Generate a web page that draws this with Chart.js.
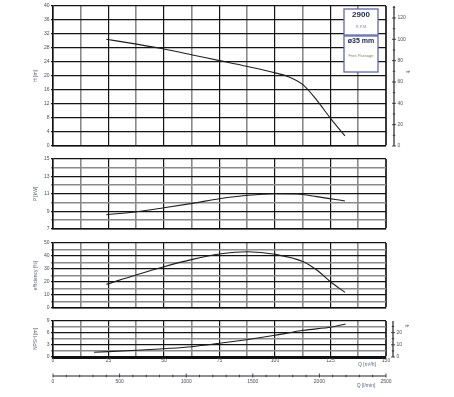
<!DOCTYPE html>
<html>
<head>
<meta charset="utf-8">
<script src="https://cdn.jsdelivr.net/npm/chart.js@4.4.0/dist/chart.umd.min.js"></script>
<style>
    html, body { margin: 0; padding: 0; background: #fff; }
    #wrap { position: relative; width: 454px; height: 397px; }
    canvas { position: absolute; left: 0; top: 0; }
</style>
</head>
<body>
<div id="wrap">
    <canvas id="headChart" width="454" height="397"></canvas>
    <canvas id="powerChart" width="454" height="397"></canvas>
    <canvas id="effChart" width="454" height="397"></canvas>
    <canvas id="npshChart" width="454" height="397"></canvas>
</div>
<script>
// curve data, Q in m3/h
const headQ = [24, 37.7, 50, 62.8, 75, 87.7, 100, 106, 112.8, 118.8, 125, 131.5];
const headH = [30.5, 29.1, 27.7, 26, 24.4, 22.7, 20.9, 19.8, 17.4, 13.1, 7.9, 2.9];
const powerQ = [24, 37.7, 50, 62.8, 75, 87.7, 100, 110, 118.8, 131.5];
const powerP = [8.63, 8.98, 9.43, 9.93, 10.46, 10.85, 11.03, 11.0, 10.7, 10.2];
const effQ = [24, 37.7, 50, 62.8, 75, 87.7, 100, 112.8, 118.8, 125, 131.5];
const effE = [18.2, 25.6, 31.8, 37.4, 41.5, 43.3, 41.3, 35.6, 29.2, 20.2, 12.1];
const npshQ = [18.5, 37.7, 50, 62.5, 75, 87.2, 100, 112.8, 125.5, 131.8];
const npshN = [1.17, 1.67, 2.08, 2.58, 3.42, 4.33, 5.42, 6.67, 7.5, 8.25];

// tick labels
const qTicks = [0, 25, 50, 75, 100, 125, 150];
const lminTicks = [0, 500, 1000, 1500, 2000, 2500];
const hTicks = [0, 4, 8, 12, 16, 20, 24, 28, 32, 36, 40];
const pTicks = [7, 9, 11, 13, 15];
const effTicks = [0, 10, 20, 30, 40, 50];
const npshTicks = [0, 3, 6, 9];
const ftTicksH = [0, 20, 40, 60, 80, 100, 120];
const ftTicksN = [0, 10, 20];

const FONT = 'Liberation Sans';
const tickColor = '#4a4c5c';
const dark = '#141414';
const gray = '#8a8a8a';
const M_TO_FT = 3.28084;

function has(list, v) {
    return list.some(t => Math.abs(t - v) < 1e-6);
}

// feet axis drawn a little to the right of the plot
const ftAxis = {
    id: 'ftAxis',
    afterDraw(chart, args, o) {
        if (!o.ticks) return;
        const { ctx, chartArea } = chart;
        const y = chart.scales.y;
        const x0 = chartArea.right + o.gap;
        const ftMax = y.max * M_TO_FT;
        ctx.save();
        ctx.strokeStyle = '#222';
        ctx.lineWidth = 1.2;
        ctx.beginPath();
        ctx.moveTo(x0, chartArea.top);
        ctx.lineTo(x0, chartArea.bottom);
        ctx.stroke();
        ctx.lineWidth = 0.8;
        for (let ft = 0; ft <= ftMax; ft += o.minor) {
            const py = y.getPixelForValue(ft / M_TO_FT);
            const major = has(o.ticks, ft);
            ctx.beginPath();
            ctx.moveTo(x0 - (major ? 2 : 1.2), py);
            ctx.lineTo(x0 + (major ? 2 : 1.2), py);
            ctx.stroke();
        }
        ctx.fillStyle = tickColor;
        ctx.font = '5px "' + FONT + '"';
        ctx.textAlign = 'left';
        ctx.textBaseline = 'middle';
        o.ticks.forEach(ft => {
            ctx.fillText(String(ft), x0 + 3.5, y.getPixelForValue(ft / M_TO_FT));
        });
        ctx.translate(x0 + 13, o.titleY);
        ctx.rotate(Math.PI / 2);
        ctx.textAlign = 'center';
        ctx.fillStyle = '#5a6080';
        ctx.fillText('ft', 0, 0);
        ctx.restore();
    }
};

// l/min axis under the bottom panel
const lminAxis = {
    id: 'lminAxis',
    afterDraw(chart, args, o) {
        if (!o.ticks) return;
        const { ctx, chartArea } = chart;
        const x = chart.scales.x;
        const y0 = chartArea.bottom + 19;
        ctx.save();
        ctx.strokeStyle = '#222';
        ctx.lineWidth = 1.2;
        ctx.beginPath();
        ctx.moveTo(x.getPixelForValue(0), y0);
        ctx.lineTo(x.getPixelForValue(2500 * 0.06), y0);
        ctx.stroke();
        ctx.lineWidth = 0.8;
        for (let l = 0; l <= 2500; l += 100) {
            const px = x.getPixelForValue(l * 0.06);
            const major = has(o.ticks, l);
            ctx.beginPath();
            ctx.moveTo(px, y0 - (major ? 2.5 : 1.2));
            ctx.lineTo(px, y0 + (major ? 1.5 : 1.2));
            ctx.stroke();
        }
        ctx.fillStyle = tickColor;
        ctx.font = '5px "' + FONT + '"';
        ctx.textAlign = 'center';
        ctx.textBaseline = 'middle';
        o.ticks.forEach(l => ctx.fillText(String(l), x.getPixelForValue(l * 0.06), y0 + 6));
        ctx.fillStyle = '#5a6080';
        ctx.fillText('Q [m\u00b3/h]', 367, chartArea.bottom + 8);
        ctx.fillText('Q [l/min]', 366, y0 + 10);
        ctx.restore();
    }
};

// speed / passage boxes in the head panel
const infoBox = {
    id: 'infoBox',
    afterDraw(chart, args, o) {
        if (!o.show) return;
        const { ctx, chartArea } = chart;
        const left = chartArea.right - 42;
        const w = 34;
        ctx.save();
        ctx.fillStyle = '#fff';
        ctx.strokeStyle = '#5f6aa6';
        ctx.lineWidth = 1.3;
        ctx.fillRect(left, chartArea.top + 3, w, 26);
        ctx.strokeRect(left, chartArea.top + 3, w, 26);
        ctx.fillRect(left, chartArea.top + 30, w, 36);
        ctx.strokeRect(left, chartArea.top + 30, w, 36);
        ctx.textAlign = 'center';
        ctx.textBaseline = 'middle';
        ctx.fillStyle = '#1c2450';
        ctx.font = 'bold 8px "' + FONT + '"';
        ctx.fillText('2900', left + w / 2, chartArea.top + 9);
        ctx.font = 'bold 7px "' + FONT + '"';
        ctx.fillText('\u00f835 mm', left + w / 2, chartArea.top + 35.5);
        ctx.fillStyle = '#8a8fae';
        ctx.font = '4px "' + FONT + '"';
        ctx.fillText('R.P.M', left + w / 2, chartArea.top + 21);
        ctx.fillStyle = '#8a7d68';
        ctx.fillText('Free Passage', left + w / 2, chartArea.top + 50);
        ctx.restore();
    }
};

function makePanel(id, cfg) {
    const pts = cfg.q.map((q, i) => ({ x: q, y: cfg.v[i] }));
    return new Chart(document.getElementById(id), {
        type: 'line',
        data: {
            datasets: [{
                data: pts,
                borderColor: '#1e1e1e',
                borderWidth: 1.1,
                pointRadius: 0,
                cubicInterpolationMode: 'monotone',
                fill: false
            }]
        },
        options: {
            responsive: false,
            animation: false,
            events: [],
            layout: { padding: { left: 30, top: cfg.top, right: 454 - 386, bottom: 397 - cfg.bottom - (cfg.bottomAxis ? 10 : 0) } },
            plugins: {
                legend: { display: false },
                tooltip: { enabled: false },
                ftAxis: cfg.ft || {},
                lminAxis: cfg.bottomAxis ? { ticks: lminTicks } : {},
                infoBox: { show: !!cfg.box }
            },
            scales: {
                x: {
                    type: 'linear',
                    min: 0,
                    max: 150,
                    ticks: {
                        display: !!cfg.bottomAxis,
                        stepSize: 12.5,
                        autoSkip: false,
                        maxRotation: 0,
                        padding: 1,
                        color: tickColor,
                        font: { family: FONT, size: 5 },
                        callback: v => has(qTicks, v) ? String(v) : ''
                    },
                    grid: {
                        drawTicks: false,
                        color: c => c.index === 12 ? '#3a3a3a' : (c.index % 2 ? gray : dark),
                        lineWidth: c => c.index === 12 ? 2 : (c.index % 2 ? 1.6 : 1.2)
                    },
                    border: { color: '#111', width: cfg.bottomAxis ? 3 : 1.6 },
                    afterFit: s => { s.height = cfg.bottomAxis ? 10 : 0; }
                },
                y: {
                    min: cfg.min,
                    max: cfg.max,
                    ticks: {
                        stepSize: cfg.step,
                        autoSkip: false,
                        padding: 1.5,
                        color: tickColor,
                        font: { family: FONT, size: 5 },
                        callback: v => has(cfg.labels, v) ? String(v) : ''
                    },
                    grid: {
                        tickLength: 2,
                        color: c => (cfg.plainY || c.tick.value === cfg.max) ? dark : (c.index % 2 ? gray : dark),
                        lineWidth: c => (cfg.plainY || c.tick.value === cfg.max) ? 1.3 : (c.index % 2 ? 1.6 : 1.3)
                    },
                    border: { color: '#111', width: 1.6 },
                    title: {
                        display: true,
                        text: cfg.title,
                        color: '#5a6080',
                        font: { family: FONT, size: 5 },
                        padding: { top: 3, bottom: 0 }
                    },
                    afterFit: s => { s.width = 23; }
                }
            }
        },
        plugins: [ftAxis, lminAxis, infoBox]
    });
}

makePanel('headChart', {
    q: headQ, v: headH, top: 6, bottom: 146,
    min: 0, max: 40, step: 4, labels: hTicks, title: 'H [m]', plainY: true,
    ft: { ticks: ftTicksH, minor: 10, gap: 8, titleY: 72 }, box: true
});
makePanel('powerChart', {
    q: powerQ, v: powerP, top: 159, bottom: 229,
    min: 7, max: 15, step: 1, labels: pTicks, title: 'P [kW]'
});
makePanel('effChart', {
    q: effQ, v: effE, top: 243, bottom: 308,
    min: 0, max: 50, step: 5, labels: effTicks, title: 'efficiency [%]'
});
makePanel('npshChart', {
    q: npshQ, v: npshN, top: 321, bottom: 357,
    min: 0, max: 9, step: 1.5, labels: npshTicks, title: 'NPSH [m]',
    ft: { ticks: ftTicksN, minor: 5, gap: 7, titleY: 326 }, bottomAxis: true
});
</script>
</body>
</html>
